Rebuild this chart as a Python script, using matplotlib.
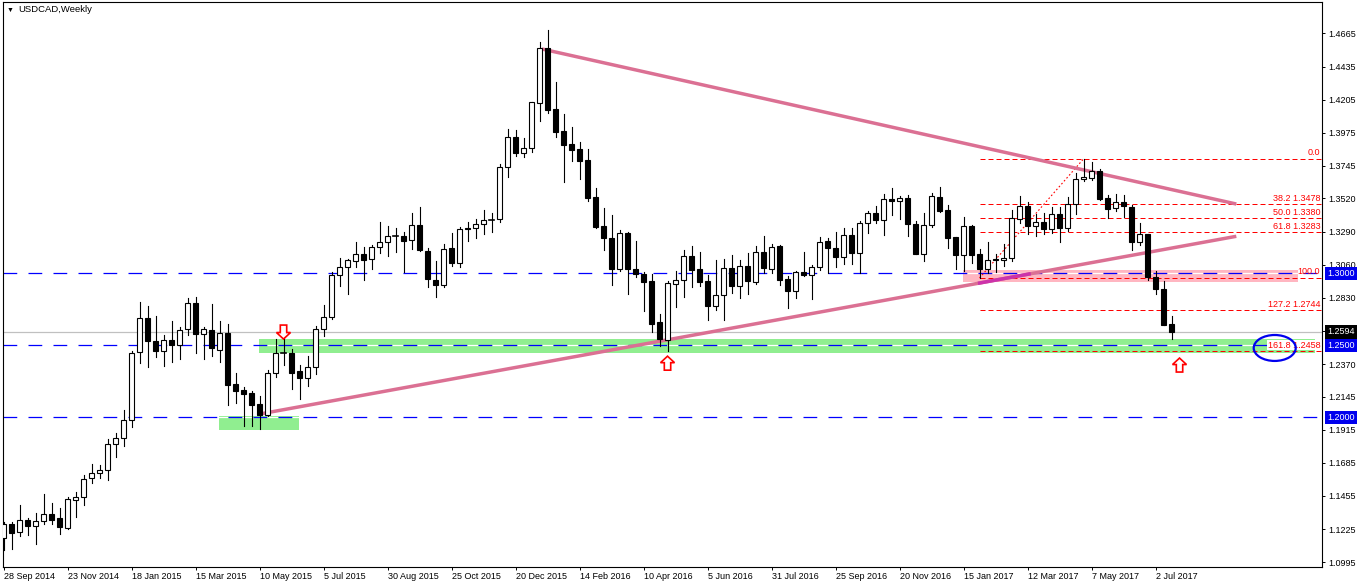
import numpy as np
import matplotlib
matplotlib.use('Agg')
import matplotlib.pyplot as plt
from matplotlib.patches import Rectangle, Ellipse, Polygon

plt.rcParams['font.family'] = ['Liberation Sans', 'DejaVu Sans']

# weekly bars, bar 0 = week of 28 Sep 2014
opens = [1.1161, 1.1258, 1.1203, 1.1286, 1.1244, 1.1279, 1.1327, 1.1300, 1.1234, 1.1429,
         1.1445, 1.1577, 1.1612, 1.1633, 1.1813, 1.1855, 1.1980, 1.2452, 1.2688, 1.2528,
         1.2459, 1.2537, 1.2504, 1.2611, 1.2792, 1.2577, 1.2604, 1.2466, 1.2584, 1.2230,
         1.2188, 1.2167, 1.2091, 1.2015, 1.2306, 1.2445, 1.2445, 1.2320, 1.2271, 1.2348,
         1.2611, 1.2695, 1.2986, 1.3046, 1.3083, 1.3132, 1.3097, 1.3180, 1.3215, 1.3257,
         1.3257, 1.3229, 1.3333, 1.3153, 1.2951, 1.2917, 1.3174, 1.3069, 1.3312, 1.3312,
         1.3340, 1.3372, 1.3375, 1.3736, 1.3944, 1.3833, 1.3868, 1.4180, 1.4562, 1.4138,
         1.3985, 1.3895, 1.3861, 1.3784, 1.3527, 1.3326, 1.3243, 1.3032, 1.3280, 1.3028,
         1.2995, 1.2944, 1.2660, 1.2537, 1.2928, 1.2951, 1.3118, 1.3028, 1.2944, 1.2775,
         1.2851, 1.3035, 1.2914, 1.3049, 1.2942, 1.3146, 1.3032, 1.3187, 1.2958, 1.2879,
         1.3007, 1.2986, 1.3042, 1.3222, 1.3174, 1.3115, 1.3264, 1.3139, 1.3347, 1.3416,
         1.3368, 1.3514, 1.3504, 1.3521, 1.3340, 1.3136, 1.3333, 1.3527, 1.3437, 1.3250,
         1.3129, 1.3326, 1.3132, 1.3028, 1.3099, 1.3090, 1.3104, 1.3379, 1.3467, 1.3330,
         1.3354, 1.3305, 1.3409, 1.3316, 1.3479, 1.3652, 1.3659, 1.3708, 1.3521, 1.3451,
         1.3493, 1.3458, 1.3215, 1.3271, 1.2972, 1.2889, 1.2646]
highs = [1.1272, 1.1272, 1.1392, 1.1300, 1.1336, 1.1468, 1.1406, 1.1371, 1.1445, 1.1480,
         1.1598, 1.1677, 1.1668, 1.1850, 1.1892, 1.2051, 1.2461, 1.2799, 1.2771, 1.2702,
         1.2570, 1.2669, 1.2627, 1.2829, 1.2836, 1.2627, 1.2787, 1.2667, 1.2646, 1.2306,
         1.2209, 1.2181, 1.2148, 1.2327, 1.2542, 1.2565, 1.2473, 1.2362, 1.2424, 1.2632,
         1.2778, 1.3007, 1.3106, 1.3101, 1.3217, 1.3183, 1.3196, 1.3356, 1.3328, 1.3312,
         1.3287, 1.3418, 1.3460, 1.3174, 1.3085, 1.3201, 1.3278, 1.3319, 1.3354, 1.3375,
         1.3437, 1.3416, 1.3756, 1.4001, 1.3995, 1.3937, 1.4190, 1.4603, 1.4690, 1.4326,
         1.4103, 1.4013, 1.3909, 1.3863, 1.3592, 1.3451, 1.3405, 1.3298, 1.3287, 1.3224,
         1.3007, 1.2997, 1.2715, 1.2947, 1.3014, 1.3162, 1.3187, 1.3146, 1.2986, 1.3092,
         1.3099, 1.3125, 1.3092, 1.3139, 1.3187, 1.3257, 1.3201, 1.3194, 1.2979, 1.3014,
         1.3146, 1.3056, 1.3250, 1.3243, 1.3287, 1.3312, 1.3312, 1.3361, 1.3432, 1.3465,
         1.3550, 1.3590, 1.3534, 1.3541, 1.3361, 1.3418, 1.3555, 1.3597, 1.3472, 1.3252,
         1.3389, 1.3333, 1.3167, 1.3217, 1.3132, 1.3205, 1.3437, 1.3536, 1.3495, 1.3409,
         1.3416, 1.3458, 1.3458, 1.3532, 1.3694, 1.3791, 1.3770, 1.3722, 1.3541, 1.3548,
         1.3541, 1.3472, 1.3347, 1.3273, 1.3014, 1.2944, 1.2706]
lows = [1.1080, 1.1085, 1.1177, 1.1184, 1.1123, 1.1262, 1.1262, 1.1191, 1.1228, 1.1311,
        1.1394, 1.1547, 1.1581, 1.1568, 1.1727, 1.1804, 1.1935, 1.2380, 1.2352, 1.2421,
        1.2359, 1.2387, 1.2407, 1.2574, 1.2449, 1.2407, 1.2428, 1.2387, 1.2088, 1.2102,
        1.1942, 1.1942, 1.1922, 1.2010, 1.2278, 1.2366, 1.2199, 1.2130, 1.2220, 1.2303,
        1.2563, 1.2681, 1.2914, 1.2858, 1.3046, 1.2951, 1.3028, 1.3139, 1.3118, 1.3150,
        1.3011, 1.3171, 1.3153, 1.2903, 1.2833, 1.2903, 1.3049, 1.3042, 1.3226, 1.3247,
        1.3275, 1.3289, 1.3356, 1.3670, 1.3816, 1.3809, 1.3844, 1.4059, 1.4115, 1.3948,
        1.3636, 1.3781, 1.3652, 1.3504, 1.3316, 1.3164, 1.2919, 1.3018, 1.2858, 1.2976,
        1.2740, 1.2595, 1.2498, 1.2461, 1.2768, 1.2838, 1.2907, 1.2914, 1.2676, 1.2747,
        1.2676, 1.2865, 1.2831, 1.2858, 1.2928, 1.3000, 1.3000, 1.2921, 1.2761, 1.2831,
        1.2983, 1.2824, 1.3025, 1.3000, 1.3046, 1.3067, 1.3067, 1.3000, 1.3278, 1.3347,
        1.3264, 1.3403, 1.3379, 1.3257, 1.3132, 1.3083, 1.3319, 1.3425, 1.3178, 1.3028,
        1.3018, 1.3069, 1.2969, 1.3004, 1.3011, 1.3051, 1.3087, 1.3347, 1.3275, 1.3261,
        1.3275, 1.3278, 1.3219, 1.3291, 1.3409, 1.3641, 1.3645, 1.3511, 1.3382, 1.3430,
        1.3389, 1.3164, 1.3194, 1.2951, 1.2858, 1.2640, 1.2542]
closes = [1.1258, 1.1200, 1.1286, 1.1244, 1.1279, 1.1327, 1.1290, 1.1241, 1.1432, 1.1445,
          1.1570, 1.1612, 1.1633, 1.1813, 1.1855, 1.1980, 1.2445, 1.2688, 1.2528, 1.2459,
          1.2535, 1.2504, 1.2604, 1.2792, 1.2577, 1.2611, 1.2484, 1.2584, 1.2227, 1.2185,
          1.2164, 1.2088, 1.2019, 1.2306, 1.2445, 1.2447, 1.2310, 1.2271, 1.2348, 1.2611,
          1.2695, 1.2986, 1.3042, 1.3090, 1.3132, 1.3090, 1.3180, 1.3215, 1.3257, 1.3255,
          1.3222, 1.3333, 1.3160, 1.2958, 1.2917, 1.3167, 1.3069, 1.3305, 1.3305, 1.3340,
          1.3368, 1.3370, 1.3736, 1.3944, 1.3833, 1.3868, 1.4187, 1.4562, 1.4135, 1.3983,
          1.3892, 1.3858, 1.3781, 1.3525, 1.3323, 1.3247, 1.3032, 1.3280, 1.3028, 1.2993,
          1.2942, 1.2650, 1.2544, 1.2935, 1.2951, 1.3118, 1.3025, 1.2942, 1.2775, 1.2847,
          1.3035, 1.2914, 1.3049, 1.2949, 1.3146, 1.3039, 1.3180, 1.2956, 1.2879, 1.3007,
          1.2990, 1.3042, 1.3215, 1.3174, 1.3115, 1.3264, 1.3139, 1.3347, 1.3416, 1.3368,
          1.3514, 1.3504, 1.3521, 1.3340, 1.3136, 1.3333, 1.3534, 1.3430, 1.3247, 1.3129,
          1.3326, 1.3129, 1.3028, 1.3090, 1.3090, 1.3106, 1.3382, 1.3467, 1.3330, 1.3354,
          1.3305, 1.3409, 1.3316, 1.3479, 1.3652, 1.3666, 1.3708, 1.3518, 1.3448, 1.3493,
          1.3465, 1.3215, 1.3271, 1.2972, 1.2889, 1.2643, 1.2594]

date_labels = ['28 Sep 2014', '23 Nov 2014', '18 Jan 2015', '15 Mar 2015', '10 May 2015',
               '5 Jul 2015', '30 Aug 2015', '25 Oct 2015', '20 Dec 2015', '14 Feb 2016',
               '10 Apr 2016', '5 Jun 2016', '31 Jul 2016', '25 Sep 2016', '20 Nov 2016',
               '15 Jan 2017', '12 Mar 2017', '7 May 2017', '2 Jul 2017']
bars_per_label = 8

price_ticks = [1.0995, 1.1225, 1.1455, 1.1685, 1.1915, 1.2145, 1.2370, 1.2600, 1.2830,
               1.3060, 1.3290, 1.3520, 1.3745, 1.3975, 1.4205, 1.4435, 1.4665]

round_levels = [1.3000, 1.2500, 1.2000]
last_price = 1.2594

# zones: (bar from, bar to, price low, price high)
green_zones = [(26.9, 36.9, 1.1912, 1.2008), (31.9, 163.9, 1.2447, 1.2544)]
pink_zone = (119.9, 161.8, 1.2942, 1.3023)

# trend lines: (bar, price) end points
trend_up = [(32.06, 1.2024), (154.1, 1.3257)]
trend_down = [(67.3, 1.4557), (154.1, 1.3481)]

# fibonacci from bar 122 low to bar 135 high
fib_start = 122
fib_peak_bar = 135
fib_high = 1.3794
fib_low = 1.2968
fib_levels = [0.0, 38.2, 50.0, 61.8, 100.0, 127.2, 161.8]
fib_texts = ['0.0', '38.2 1.3478', '50.0 1.3380', '61.8 1.3283', '100.0', '127.2 1.2744', '161.8 1.2458']

# arrows: (bar, tip price, direction)
arrows = [(35, 1.2544, 'down'), (83, 1.2425, 'up'), (147, 1.2412, 'up')]

PX = 1362.0
fig = plt.figure(figsize=(13.62, 5.85), dpi=100)
ax = fig.add_axes([2.5 / PX, 18 / 585.0, 1319.5 / PX, 565 / 585.0])
ax.set_xlim(-0.125, 164.81)
ax.set_ylim(1.0962, 1.4883)

for z in green_zones:
    ax.add_patch(Rectangle((z[0], z[2]), z[1] - z[0], z[3] - z[2], fc='#90ee90', ec='none', zorder=1))
ax.add_patch(Rectangle((pink_zone[0], pink_zone[2]), pink_zone[1] - pink_zone[0],
                       pink_zone[3] - pink_zone[2], fc='#ffb6c1', ec='none', zorder=1))

ax.axhline(last_price, color='#c0c0c0', lw=0.9, zorder=1.5)
for lv in round_levels:
    ax.axhline(lv, color='#0000ff', lw=0.9, ls=(0, (11, 9)), gapcolor='white', zorder=2)

# fibonacci
rng = fib_high - fib_low
xmax = ax.get_xlim()[1]
for lv, txt in zip(fib_levels, fib_texts):
    p = fib_high - rng * lv / 100.0
    ax.plot([fib_start, xmax], [p, p], color='red', lw=0.72, ls=(0, (5, 3)), zorder=2.2)
    box = dict(boxstyle='square,pad=0.05', fc='white', ec='none') if lv > 150 else None
    ax.text(164.6, p + 0.0012, txt, color='red', fontsize=6.5, ha='right', va='bottom',
            bbox=box, zorder=4)
ax.plot([fib_start, fib_peak_bar], [fib_low, fib_high], color='red', lw=0.8, ls=(0, (1.5, 2)), zorder=2.2)

# trend lines
for tl in (trend_up, trend_down):
    ax.plot([tl[0][0], tl[1][0]], [tl[0][1], tl[1][1]], color='#db7093', lw=2.5,
            solid_capstyle='butt', zorder=2.5)
mx = [121.8, 128.4]
my = np.interp(mx, [trend_up[0][0], trend_up[1][0]], [trend_up[0][1], trend_up[1][1]])
ax.plot(mx, my, color='#cc33aa', lw=2.5, solid_capstyle='butt', zorder=2.6)

# candles
bw = 0.55
for i in range(len(opens)):
    o, h, l, c = opens[i], highs[i], lows[i], closes[i]
    ax.plot([i, i], [l, h], color='black', lw=0.8, zorder=3)
    lo, hi = min(o, c), max(o, c)
    if hi - lo < 0.0004:
        ax.plot([i - bw / 2, i + bw / 2], [o, o], color='black', lw=1.2, zorder=3.1)
    else:
        fc = 'white' if c > o else 'black'
        ax.add_patch(Rectangle((i - bw / 2, lo), bw, hi - lo, fc=fc, ec='black', lw=0.8, zorder=3.1))

# hollow red arrows
aw, sw, ah, hh = 1.75, 0.8, 0.0097, 0.0045
for bar, tip, d in arrows:
    s = 1 if d == 'down' else -1
    pts = [(bar, tip), (bar + aw / 2, tip + s * hh), (bar + sw / 2, tip + s * hh),
           (bar + sw / 2, tip + s * ah), (bar - sw / 2, tip + s * ah),
           (bar - sw / 2, tip + s * hh), (bar - aw / 2, tip + s * hh)]
    ax.add_patch(Polygon(pts, closed=True, fc='white', ec='red', lw=1.2, zorder=4))

ax.add_patch(Ellipse((158.9, 1.2482), 5.25, 0.018, fc='none', ec='#0000ee', lw=1.6, zorder=5))

# axes styling
for sp in ax.spines.values():
    sp.set_color('black')
    sp.set_linewidth(0.8)
ax.yaxis.tick_right()
ax.set_yticks(price_ticks)
ax.set_yticklabels(['%.4f' % t for t in price_ticks])
ax.tick_params(axis='y', direction='out', length=2.5, width=0.7, pad=2, labelsize=6.5)
ax.set_xticks(range(0, len(date_labels) * bars_per_label, bars_per_label))
ax.set_xticklabels(date_labels)
ax.tick_params(axis='x', direction='out', length=2.5, width=0.7, pad=1, labelsize=6.5)
for lbl in ax.get_xticklabels():
    lbl.set_ha('left')

# price labels on the axis
ytr = ax.get_yaxis_transform()
for lv in round_levels:
    ax.text(1.0043, lv, '%.4f' % lv, transform=ytr, color='white', fontsize=6.5, ha='left', va='center',
            bbox=dict(boxstyle='square,pad=0.25', fc='#0000ee', ec='none'), clip_on=False, zorder=6)
ax.text(1.0043, last_price, '%.4f' % last_price, transform=ytr, color='white', fontsize=6.5,
        ha='left', va='center', bbox=dict(boxstyle='square,pad=0.25', fc='black', ec='none'),
        clip_on=False, zorder=6)

fig.text(7 / PX, 1 - 10 / 585.0, '\u25bc', fontsize=5, va='center', ha='left')
fig.text(18 / PX, 1 - 10 / 585.0, 'USDCAD,Weekly', fontsize=6.8, va='center', ha='left')

fig.savefig('out.png', dpi=100)
